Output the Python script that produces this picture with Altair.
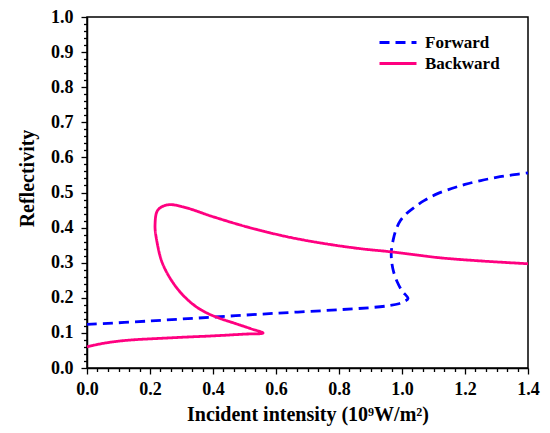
import altair as alt
import pandas as pd

# Forward (blue dashed) curve, traced in path order
fwd_x = [0.0, 0.2, 0.4, 0.6, 0.8, 0.9, 0.962, 0.99, 1.008, 1.019,
         1.0, 0.985, 0.973, 0.967, 0.966, 0.972, 0.981, 0.995, 1.012, 1.035,
         1.07, 1.111, 1.16, 1.2, 1.25, 1.3, 1.35, 1.4]
fwd_y = [0.124, 0.134, 0.145, 0.156, 0.166, 0.172, 0.178, 0.183, 0.19, 0.198,
         0.22, 0.245, 0.275, 0.305, 0.33, 0.365, 0.394, 0.42, 0.438, 0.455,
         0.477, 0.496, 0.512, 0.523, 0.534, 0.543, 0.55, 0.556]

# Backward (pink solid) curve, traced in path order
bwd_x = [0.0, 0.03, 0.06, 0.1, 0.15, 0.2, 0.3, 0.4, 0.5, 0.559,
         0.52, 0.47, 0.42, 0.38, 0.337, 0.286, 0.241, 0.222, 0.216, 0.225, 0.257,
         0.305, 0.40, 0.508, 0.635, 0.75, 0.867, 0.965, 1.121, 1.25, 1.4]
bwd_y = [0.06, 0.0665, 0.0715, 0.0765, 0.0805, 0.083, 0.0875, 0.0915, 0.0965, 0.0995,
         0.112, 0.127, 0.142, 0.157, 0.181, 0.227, 0.295, 0.36, 0.408, 0.45, 0.465,
         0.459, 0.431, 0.402, 0.374, 0.355, 0.340, 0.331, 0.314, 0.305, 0.297]

series = ["Forward", "Backward"]
colors = ["#0000FF", "#FF0080"]

x_ticks = [round(i * 0.2 / 6, 6) for i in range(43)]
y_ticks = [round(i * 0.02, 4) for i in range(51)]

rows = []
for i, (xv, yv) in enumerate(zip(fwd_x, fwd_y)):
    rows.append({"series": "Forward", "x": xv, "y": yv, "o": i})
for i, (xv, yv) in enumerate(zip(bwd_x, bwd_y)):
    rows.append({"series": "Backward", "x": xv, "y": yv, "o": i})
df = pd.DataFrame(rows)

FONT = "Liberation Serif"

xmaj_test = "abs(datum.value*5 - round(datum.value*5)) < 1e-6"
ymaj_test = "abs(datum.value*10 - round(datum.value*10)) < 1e-6"

leg = alt.Legend(
    title=None, orient="none", legendX=291, legendY=17,
    symbolType="stroke", symbolSize=1369, symbolStrokeWidth=2.8,
    labelFont=FONT, labelFontWeight="bold", labelFontSize=17,
    labelOffset=7, rowPadding=3, padding=0, labelColor="black",
    clipHeight=17,
)

chart = alt.Chart(df).mark_line(strokeWidth=2.8, interpolate="catmull-rom").encode(
    x=alt.X("x:Q",
            scale=alt.Scale(domain=[0, 1.4], nice=False, zero=True),
            axis=alt.Axis(
                title="Incident intensity (10⁹W/m²)",
                values=x_ticks,
                labelExpr=f"({xmaj_test}) ? format(datum.value, '.1f') : ''",
                tickSize={"condition": {"test": xmaj_test, "value": 6}, "value": 3.5},
                labelOverlap=False, labelFlush=False, labelPadding=6,
                titleY=52, titleBaseline="alphabetic",
            )),
    y=alt.Y("y:Q",
            scale=alt.Scale(domain=[0, 1.0], nice=False, zero=True),
            axis=alt.Axis(
                title="Reflectivity",
                values=y_ticks,
                labelExpr=f"({ymaj_test}) ? format(datum.value, '.1f') : ''",
                tickSize={"condition": {"test": ymaj_test, "value": 6}, "value": 3.5},
                labelOverlap=False, labelPadding=8,
                titleX=-54, titleY=161, titleBaseline="alphabetic",
            )),
    color=alt.Color("series:N", scale=alt.Scale(domain=series, range=colors), legend=leg),
    strokeDash=alt.StrokeDash("series:N", scale=alt.Scale(domain=series, range=[[10, 6], [1, 0]]), legend=leg),
    order="o:Q",
).properties(
    width=441, height=351,
    autosize=alt.AutoSizeParams(type="none"),
    padding={"left": 79, "top": 9, "right": 14, "bottom": 58},
).configure_view(
    stroke="black", strokeWidth=1.5,
).configure_axis(
    grid=False, domainColor="black", domainWidth=1.5, tickColor="black", tickWidth=1.3,
    labelFont=FONT, labelFontWeight="bold", labelFontSize=18, labelColor="black",
    titleFont=FONT, titleFontWeight="bold", titleFontSize=20, titleColor="black",
)

chart.save("out.html", embed_options={"renderer": "svg", "actions": False})
